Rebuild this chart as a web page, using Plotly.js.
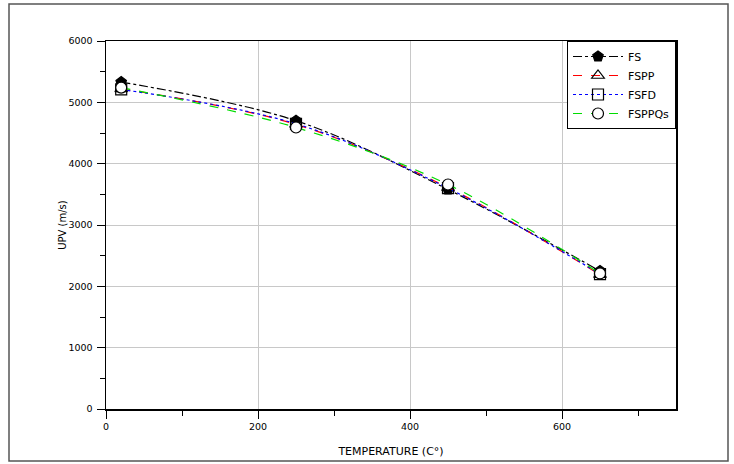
<!DOCTYPE html>
<html><head><meta charset="utf-8">
<script src="https://cdn.plot.ly/plotly-3.0.1.min.js"></script>
<style>html,body{margin:0;padding:0;background:#fff;}#chart{width:734px;height:464px;}</style>
</head><body><div id="chart"></div>
<script>
const temps = [20, 250, 450, 650];
const fs = [5330, 4700, 3580, 2250];
const fspp = [5220, 4640, 3610, 2190];
const fsfd = [5210, 4650, 3600, 2200];
const fsppqs = [5240, 4590, 3660, 2210];
const names = ['FS', 'FSPP', 'FSFD', 'FSPPQs'];

const mk = (y, name, color, dash, symbol, fill) => ({
  x: temps, y: y, name: name, type: 'scatter', mode: 'lines+markers',
  line: {color: color, width: 1.2, dash: dash, shape: 'spline'},
  marker: {symbol: symbol, size: 11, color: fill, line: {color: '#000', width: 1.2}}
});

const data = [
  mk(fs, names[0], '#000000', 'dashdot', 'pentagon', '#000000'),
  mk(fspp, names[1], '#ff0000', 'dash', 'triangle-up-open', '#000'),
  mk(fsfd, names[2], '#0000ff', 'dot', 'square-open', '#000'),
  mk(fsppqs, names[3], '#00dd00', 'dash', 'circle', '#ffffff')
];

const axisCommon = {
  showline: true, linecolor: '#000', linewidth: 1.5, mirror: true,
  ticks: 'outside', ticklen: 8, tickcolor: '#000', tickwidth: 1,
  showgrid: true, gridcolor: '#c8c8c8', gridwidth: 1, zeroline: false,
  tickfont: {family: 'DejaVu Sans', size: 9.5, color: '#000'}
};

const layout = {
  width: 734, height: 464,
  margin: {l: 106, r: 58, t: 41, b: 55},
  paper_bgcolor: '#fff', plot_bgcolor: '#fff',
  showlegend: true,
  legend: {x: 1, xanchor: 'right', y: 1, yanchor: 'top', bordercolor: '#000', borderwidth: 1,
    bgcolor: '#fff', font: {family: 'DejaVu Sans', size: 11, color: '#000'}, tracegroupgap: 0, itemwidth: 50},
  xaxis: Object.assign({}, axisCommon, {range: [0, 750], dtick: 200, tick0: 0,
    minor: {dtick: 100, ticks: 'outside', ticklen: 5, tickcolor: '#000', showgrid: false},
    title: {text: 'TEMPERATURE (C°)', font: {family: 'DejaVu Sans', size: 11, color: '#000'}, standoff: 16}}),
  yaxis: Object.assign({}, axisCommon, {range: [0, 6000], dtick: 1000, tick0: 0, ticklabelstandoff: 2,
    minor: {dtick: 500, ticks: 'outside', ticklen: 5, tickcolor: '#000', showgrid: false},
    title: {text: 'UPV (m/s)', font: {family: 'DejaVu Sans', size: 10, color: '#000'}, standoff: 0}}),
  shapes: [{type: 'rect', xref: 'paper', yref: 'paper',
    x0: (9 - 106) / 570, x1: (728 - 106) / 570, y0: (409 - 461) / 368, y1: (409 - 4) / 368,
    line: {color: '#555', width: 1.5}, fillcolor: 'rgba(0,0,0,0)', layer: 'below'}]
};

Plotly.newPlot('chart', data, layout, {displayModeBar: false, staticPlot: true});
</script></body></html>
